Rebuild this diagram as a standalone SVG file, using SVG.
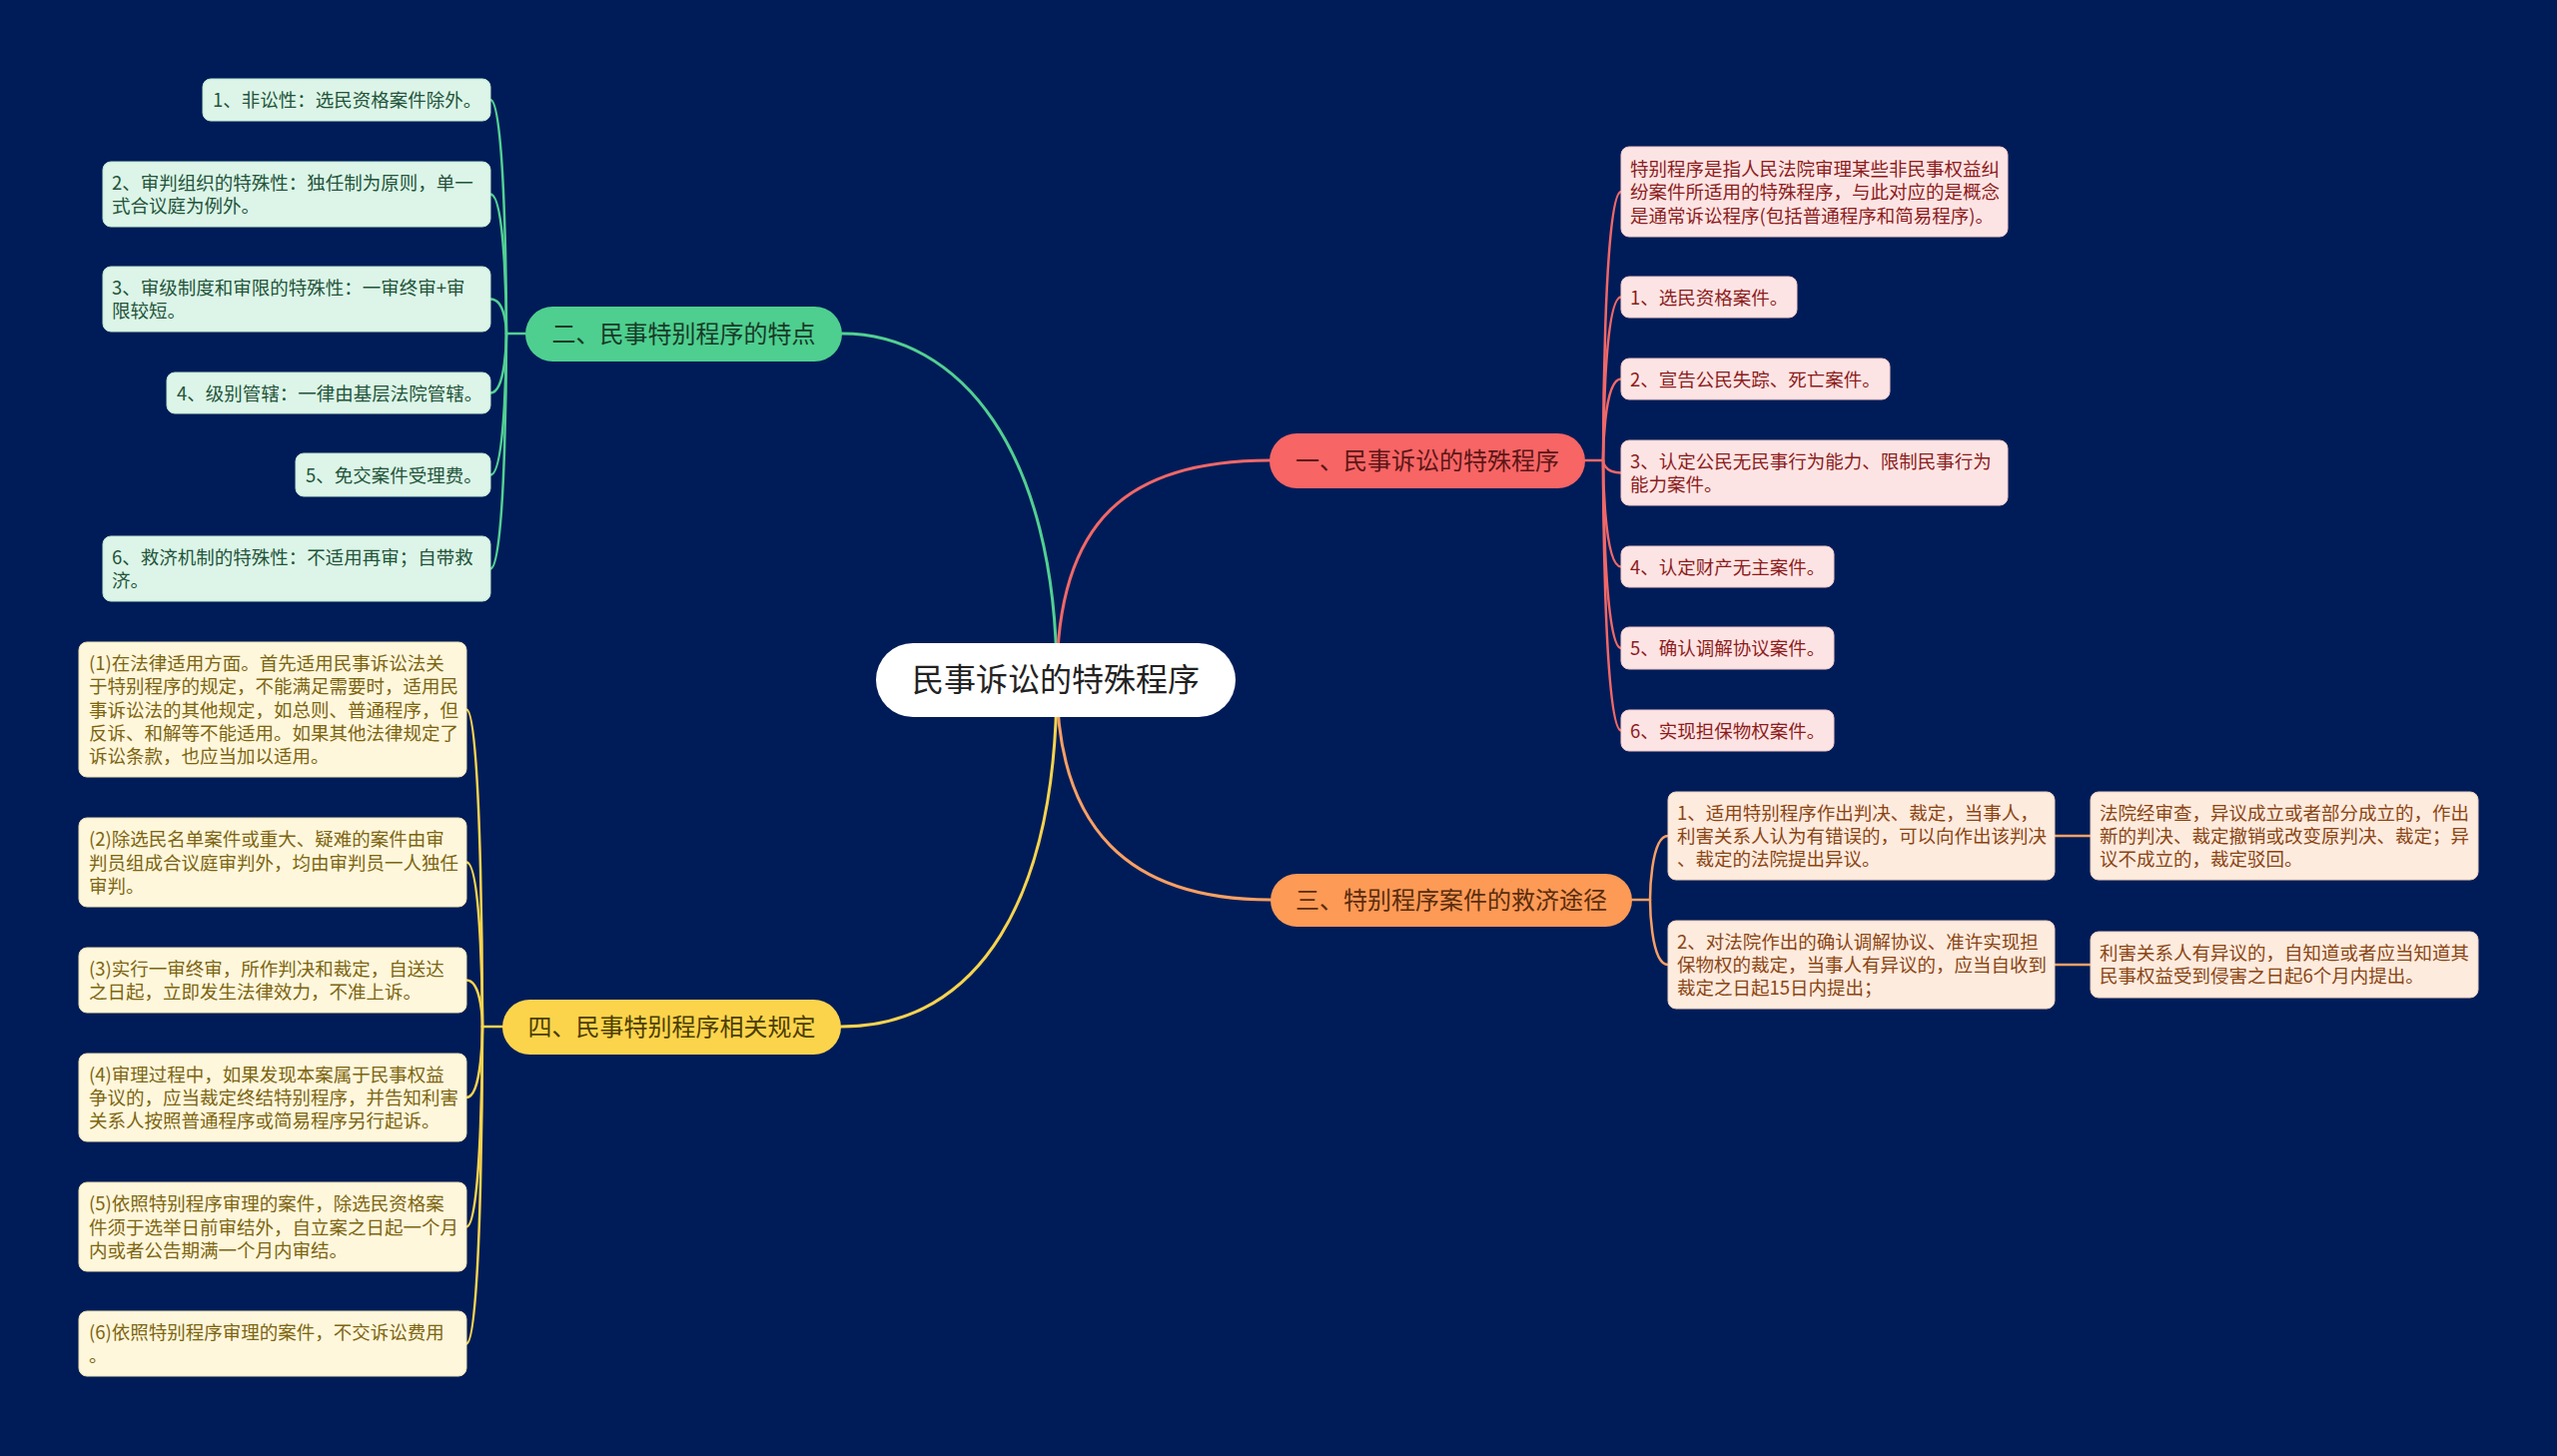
<svg xmlns="http://www.w3.org/2000/svg" width="2560" height="1458" viewBox="0 0 2560 1458">
<style>
text{font-family:"Noto Sans CJK SC","Noto Sans",sans-serif}
.lf{font-size:18.5px}
.br{font-size:24px;text-anchor:middle}
.cl{fill:none;stroke-width:3;stroke-linecap:round}
.sl{fill:none;stroke-width:2.5;stroke-linecap:round}
.g{stroke:#52d092}.r{stroke:#f06868}.o{stroke:#f8a064}.y{stroke:#f7d44e}
.gl{fill:#dcf5e8;stroke:#bfe8d2;stroke-width:1}.gt{fill:#23543a}
.rl{fill:#fde4e4;stroke:#f0c8c8;stroke-width:1}.rt{fill:#8c1c1c}
.ol{fill:#fdebde;stroke:#f0d0bc;stroke-width:1}.ot{fill:#8b4513}
.yl{fill:#fef7dc;stroke:#eee2b2;stroke-width:1}.yt{fill:#7d6510}
</style>
<rect width="2560" height="1458" fill="#001c58"/>
<g id="connectors">
<path class="cl g" d="M843 334 C960 334 1058 450 1058 681"/>
<path class="cl r" d="M1058 681 C1058 520 1130 461 1271 461"/>
<path class="cl o" d="M1058 681 C1058 830 1130 901 1272 901"/>
<path class="cl y" d="M842 1028 C980 1028 1058 900 1058 681"/>
<path class="sl g" d="M526 334 H507"/>
<path class="sl g" d="M507 334 C507 334 507 100 491 100"/>
<path class="sl g" d="M507 334 C507 334 507 194.5 491 194.5"/>
<path class="sl g" d="M507 334 C507 334 507 299.5 491 299.5"/>
<path class="sl g" d="M507 334 C507 334 507 393.5 491 393.5"/>
<path class="sl g" d="M507 334 C507 334 507 475.5 491 475.5"/>
<path class="sl g" d="M507 334 C507 334 507 569.5 491 569.5"/>
<path class="sl r" d="M1587 461 H1605"/>
<path class="sl r" d="M1605 461 C1605 461 1605 192 1623 192"/>
<path class="sl r" d="M1605 461 C1605 461 1605 297.5 1623 297.5"/>
<path class="sl r" d="M1605 461 C1605 461 1605 379.5 1623 379.5"/>
<path class="sl r" d="M1605 461 C1605 461 1605 473.5 1623 473.5"/>
<path class="sl r" d="M1605 461 C1605 461 1605 567.5 1623 567.5"/>
<path class="sl r" d="M1605 461 C1605 461 1605 649 1623 649"/>
<path class="sl r" d="M1605 461 C1605 461 1605 731.5 1623 731.5"/>
<path class="sl o" d="M1634 901 H1652"/>
<path class="sl o" d="M1652 901 C1652 901 1652 837 1670 837"/>
<path class="sl o" d="M1652 901 C1652 901 1652 966 1670 966"/>
<path class="sl o" d="M2057 837 H2093"/>
<path class="sl o" d="M2057 966 H2093"/>
<path class="sl y" d="M503 1028 H483"/>
<path class="sl y" d="M483 1028 C483 1028 483 710.5 467 710.5"/>
<path class="sl y" d="M483 1028 C483 1028 483 863.5 467 863.5"/>
<path class="sl y" d="M483 1028 C483 1028 483 981.5 467 981.5"/>
<path class="sl y" d="M483 1028 C483 1028 483 1099 467 1099"/>
<path class="sl y" d="M483 1028 C483 1028 483 1228.5 467 1228.5"/>
<path class="sl y" d="M483 1028 C483 1028 483 1345.5 467 1345.5"/>
</g>
<g id="root">
<rect x="877" y="644" width="360" height="74" rx="37" fill="#ffffff"/>
<text x="1057" y="692" font-size="32" text-anchor="middle" fill="#222222">民事诉讼的特殊程序</text>
</g>
<g id="b1">
<rect x="1271" y="434" width="316" height="55" rx="27.5" fill="#f76565"/>
<text class="br" x="1429" y="470" fill="#5c1616">一、民事诉讼的特殊程序</text>
</g>
<g id="b2">
<rect x="526" y="307" width="317" height="55" rx="27.5" fill="#4ecf8f"/>
<text class="br" x="684.5" y="343" fill="#183a28">二、民事特别程序的特点</text>
</g>
<g id="b3">
<rect x="1272" y="875" width="362" height="53" rx="26.5" fill="#fc9a56"/>
<text class="br" x="1453" y="910" fill="#5b2c0c">三、特别程序案件的救济途径</text>
</g>
<g id="b4">
<rect x="503" y="1001" width="339" height="55" rx="27.5" fill="#fcd44c"/>
<text class="br" x="672.5" y="1037" fill="#4d3d00">四、民事特别程序相关规定</text>
</g>
<g id="g1"><rect class="gl" x="203" y="79" width="288" height="42" rx="8"/><text class="lf gt" x="213" y="107">1、非讼性：选民资格案件除外。</text></g>
<g id="g2"><rect class="gl" x="103" y="162" width="388" height="65" rx="8"/><text class="lf gt" x="112" y="189.5">2、审判组织的特殊性：独任制为原则，单一<tspan x="112" dy="23.4">式合议庭为例外。</tspan></text></g>
<g id="g3"><rect class="gl" x="103" y="267" width="388" height="65" rx="8"/><text class="lf gt" x="112" y="294.5">3、审级制度和审限的特殊性：一审终审+审<tspan x="112" dy="23.4">限较短。</tspan></text></g>
<g id="g4"><rect class="gl" x="167" y="373" width="324" height="41" rx="8"/><text class="lf gt" x="177" y="400.5">4、级别管辖：一律由基层法院管辖。</text></g>
<g id="g5"><rect class="gl" x="296" y="454" width="195" height="43" rx="8"/><text class="lf gt" x="306" y="482.5">5、免交案件受理费。</text></g>
<g id="g6"><rect class="gl" x="103" y="537" width="388" height="65" rx="8"/><text class="lf gt" x="112" y="564.5">6、救济机制的特殊性：不适用再审；自带救<tspan x="112" dy="23.4">济。</tspan></text></g>
<g id="r0"><rect class="rl" x="1623" y="147" width="387" height="90" rx="8"/><text class="lf rt" x="1632" y="176">特别程序是指人民法院审理某些非民事权益纠<tspan x="1632" dy="23.4">纷案件所适用的特殊程序，与此对应的是概念</tspan><tspan x="1632" dy="23.4">是通常诉讼程序(包括普通程序和简易程序)。</tspan></text></g>
<g id="r1"><rect class="rl" x="1623" y="277" width="176" height="41" rx="8"/><text class="lf rt" x="1632" y="304.5">1、选民资格案件。</text></g>
<g id="r2"><rect class="rl" x="1623" y="359" width="269" height="41" rx="8"/><text class="lf rt" x="1632" y="386.5">2、宣告公民失踪、死亡案件。</text></g>
<g id="r3"><rect class="rl" x="1623" y="441" width="387" height="65" rx="8"/><text class="lf rt" x="1632" y="468.5">3、认定公民无民事行为能力、限制民事行为<tspan x="1632" dy="23.4">能力案件。</tspan></text></g>
<g id="r4"><rect class="rl" x="1623" y="547" width="213" height="41" rx="8"/><text class="lf rt" x="1632" y="574.5">4、认定财产无主案件。</text></g>
<g id="r5"><rect class="rl" x="1623" y="628" width="213" height="42" rx="8"/><text class="lf rt" x="1632" y="656">5、确认调解协议案件。</text></g>
<g id="r6"><rect class="rl" x="1623" y="711" width="213" height="41" rx="8"/><text class="lf rt" x="1632" y="738.5">6、实现担保物权案件。</text></g>
<g id="o1"><rect class="ol" x="1670" y="793" width="387" height="88" rx="8"/><text class="lf ot" x="1679" y="820.6">1、适用特别程序作出判决、裁定，当事人，<tspan x="1679" dy="23.4">利害关系人认为有错误的，可以向作出该判决</tspan><tspan x="1679" dy="23.4">、裁定的法院提出异议。</tspan></text></g>
<g id="o2"><rect class="ol" x="1670" y="922" width="387" height="88" rx="8"/><text class="lf ot" x="1679" y="949.6">2、对法院作出的确认调解协议、准许实现担<tspan x="1679" dy="23.4">保物权的裁定，当事人有异议的，应当自收到</tspan><tspan x="1679" dy="23.4">裁定之日起15日内提出；</tspan></text></g>
<g id="o1a"><rect class="ol" x="2093" y="793" width="388" height="88" rx="8"/><text class="lf ot" x="2102" y="820.6">法院经审查，异议成立或者部分成立的，作出<tspan x="2102" dy="23.4">新的判决、裁定撤销或改变原判决、裁定；异</tspan><tspan x="2102" dy="23.4">议不成立的，裁定驳回。</tspan></text></g>
<g id="o2a"><rect class="ol" x="2093" y="933" width="388" height="66" rx="8"/><text class="lf ot" x="2102" y="961">利害关系人有异议的，自知道或者应当知道其<tspan x="2102" dy="23.4">民事权益受到侵害之日起6个月内提出。</tspan></text></g>
<g id="y1"><rect class="yl" x="79" y="643" width="388" height="135" rx="8"/><text class="lf yt" x="89" y="670.7">(1)在法律适用方面。首先适用民事诉讼法关<tspan x="89" dy="23.4">于特别程序的规定，不能满足需要时，适用民</tspan><tspan x="89" dy="23.4">事诉讼法的其他规定，如总则、普通程序，但</tspan><tspan x="89" dy="23.4">反诉、和解等不能适用。如果其他法律规定了</tspan><tspan x="89" dy="23.4">诉讼条款，也应当加以适用。</tspan></text></g>
<g id="y2"><rect class="yl" x="79" y="819" width="388" height="89" rx="8"/><text class="lf yt" x="89" y="847.1">(2)除选民名单案件或重大、疑难的案件由审<tspan x="89" dy="23.4">判员组成合议庭审判外，均由审判员一人独任</tspan><tspan x="89" dy="23.4">审判。</tspan></text></g>
<g id="y3"><rect class="yl" x="79" y="949" width="388" height="65" rx="8"/><text class="lf yt" x="89" y="976.5">(3)实行一审终审，所作判决和裁定，自送达<tspan x="89" dy="23.4">之日起，立即发生法律效力，不准上诉。</tspan></text></g>
<g id="y4"><rect class="yl" x="79" y="1055" width="388" height="88" rx="8"/><text class="lf yt" x="89" y="1082.6">(4)审理过程中，如果发现本案属于民事权益<tspan x="89" dy="23.4">争议的，应当裁定终结特别程序，并告知利害</tspan><tspan x="89" dy="23.4">关系人按照普通程序或简易程序另行起诉。</tspan></text></g>
<g id="y5"><rect class="yl" x="79" y="1184" width="388" height="89" rx="8"/><text class="lf yt" x="89" y="1212.1">(5)依照特别程序审理的案件，除选民资格案<tspan x="89" dy="23.4">件须于选举日前审结外，自立案之日起一个月</tspan><tspan x="89" dy="23.4">内或者公告期满一个月内审结。</tspan></text></g>
<g id="y6"><rect class="yl" x="79" y="1313" width="388" height="65" rx="8"/><text class="lf yt" x="89" y="1340.5">(6)依照特别程序审理的案件，不交诉讼费用<tspan x="89" dy="23.4">。</tspan></text></g>
</svg>
